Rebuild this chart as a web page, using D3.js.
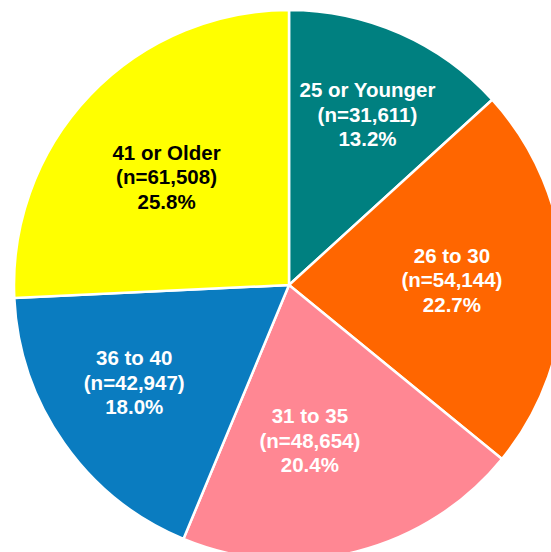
<!DOCTYPE html>
<html>
<head>
<meta charset="utf-8">
<script src="https://cdn.jsdelivr.net/npm/d3@7"></script>
<style>
  html, body { margin: 0; padding: 0; background: #fff; }
  svg { display: block; }
</style>
</head>
<body>
<div id="chart_area"></div>
<script>
// data
const categories = ['25 or Younger', '26 to 30', '31 to 35', '36 to 40', '41 or Older'];
const counts = [31611, 54144, 48654, 42947, 61508];
const percentLabels = ['13.2%', '22.7%', '20.4%', '18.0%', '25.8%'];
const colors = ['#008080', '#FF6600', '#FF8793', '#0A7CC0', '#FFFF00'];
const textColors = ['#fff', '#fff', '#fff', '#fff', '#000'];

// layout
const width = 551;
const height = 552;
const cx = 289;
const cy = 285;
const radius = 275;
const labelRadius = 172;
// small hand tweaks so labels sit where the original put them
const labelNudge = [[9, -13], [-9, 0], [-21, -11], [-14, -1], [2, 11]];

const svg = d3
  .select('#chart_area')
  .append('svg')
  .attr('width', width)
  .attr('height', height);

const g = svg.append('g').attr('transform', 'translate(' + cx + ',' + cy + ')');

const pie = d3.pie().sort(null).value((d) => d);
const arcs = pie(counts);

const arc = d3.arc().innerRadius(0).outerRadius(radius);
const labelArc = d3.arc().innerRadius(labelRadius).outerRadius(labelRadius);

g.selectAll('path')
  .data(arcs)
  .enter()
  .append('path')
  .attr('d', arc)
  .attr('fill', (d, i) => colors[i])
  .attr('stroke', '#fff')
  .attr('stroke-width', 2.5)
  .attr('stroke-linejoin', 'miter');

const fmt = d3.format(',');

const labels = g
  .selectAll('text')
  .data(arcs)
  .enter()
  .append('text')
  .attr('transform', (d, i) => {
    const c = labelArc.centroid(d);
    return 'translate(' + (c[0] + labelNudge[i][0]) + ',' + (c[1] + labelNudge[i][1]) + ')';
  })
  .attr('text-anchor', 'middle')
  .attr('font-family', 'Liberation Sans, Arial, sans-serif')
  .attr('font-weight', 'bold')
  .attr('font-size', 20.5)
  .attr('fill', (d, i) => textColors[i]);

labels.each(function (d, i) {
  const lines = [categories[i], '(n=' + fmt(counts[i]) + ')', percentLabels[i]];
  const t = d3.select(this);
  lines.forEach((line, j) => {
    t.append('tspan')
      .attr('x', 0)
      .attr('y', (j - 1) * 24.5 + 7)
      .text(line);
  });
});
</script>
</body>
</html>
